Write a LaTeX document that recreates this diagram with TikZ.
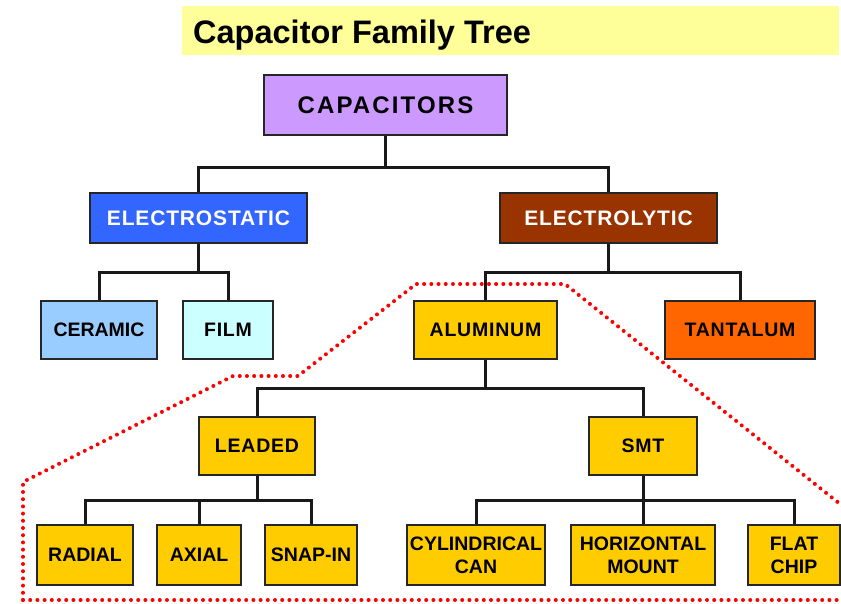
\documentclass[tikz,border=0pt]{standalone}
\usepackage{fontspec}
\setmainfont{Liberation Sans}
\definecolor{titlebg}{HTML}{FFFF99}
\definecolor{lav}{HTML}{CC99FF}
\definecolor{estblue}{HTML}{3366FF}
\definecolor{brown}{HTML}{993300}
\definecolor{ltblue}{HTML}{99CCFF}
\definecolor{cyanish}{HTML}{CCFFFF}
\definecolor{gold}{HTML}{FFCC00}
\definecolor{orng}{HTML}{FF6600}
\definecolor{dotred}{HTML}{FF0000}
\tikzset{
  box/.style={draw=black!85, line width=1.6pt, inner sep=0pt, align=center,
    font=\bfseries\fontsize{19.5}{23}\selectfont},
  spaced/.style={font=\bfseries\fontsize{19.5}{23}\selectfont\addfontfeatures{LetterSpace=4}},
  goldbox/.style={box, fill=gold},
  conn/.style={line width=3pt, draw=black!90, line join=miter},
  dots/.style={draw=dotred, line width=4pt, line cap=round, dash pattern=on 0pt off 7.2pt}
}
\begin{document}
\begin{tikzpicture}[x=1pt,y=-1pt]
\useasboundingbox (0,0) rectangle (841,603);
\fill[white] (0,0) rectangle (841,603);
% title
\fill[titlebg] (182,6) rectangle (839,55);
\node[anchor=base west, inner sep=0pt, font=\bfseries\fontsize{32.5}{36}\selectfont] (title) at (193,43) {Capacitor Family Tree};
% boxes
\node[box, fill=lav, minimum width=243pt, minimum height=60pt,
  font=\bfseries\fontsize{24}{28}\selectfont\addfontfeatures{LetterSpace=9}] (cap) at (385.5,105) {CAPACITORS};
\node[box, fill=estblue, text=white, minimum width=217pt, minimum height=50pt,
  font=\bfseries\fontsize{21}{25}\selectfont\addfontfeatures{LetterSpace=4}] (estat) at (198.5,218) {ELECTROSTATIC};
\node[box, fill=brown, text=white, minimum width=217pt, minimum height=50pt,
  font=\bfseries\fontsize{21}{25}\selectfont\addfontfeatures{LetterSpace=4}] (elyt) at (608.5,218) {ELECTROLYTIC};
\node[box, fill=ltblue, minimum width=116pt, minimum height=58pt] (ceramic) at (99,330) {CERAMIC};
\node[box, fill=cyanish, minimum width=90pt, minimum height=58pt, spaced] (film) at (228,330) {FILM};
\node[goldbox, minimum width=143pt, minimum height=58pt, spaced] (alum) at (485.5,330) {ALUMINUM};
\node[box, fill=orng, minimum width=150pt, minimum height=58pt, spaced] (tant) at (740,330) {TANTALUM};
\node[goldbox, minimum width=116pt, minimum height=58pt, spaced] (leaded) at (257,446) {LEADED};
\node[goldbox, minimum width=108pt, minimum height=58pt, spaced] (smt) at (643,446) {SMT};
\node[goldbox, minimum width=96pt, minimum height=60pt] (radial) at (85,555) {RADIAL};
\node[goldbox, minimum width=84pt, minimum height=60pt] (axial) at (199,555) {AXIAL};
\node[goldbox, minimum width=92pt, minimum height=60pt] (snap) at (311,555) {SNAP-IN};
\node[goldbox, minimum width=138pt, minimum height=60pt] (cyl) at (476,555) {CYLINDRICAL\\CAN};
\node[goldbox, minimum width=144pt, minimum height=60pt] (horiz) at (643,555) {HORIZONTAL\\MOUNT};
\node[goldbox, minimum width=92pt, minimum height=60pt] (flat) at (794,555) {FLAT\\CHIP};
% bus coordinates
\coordinate (b1) at (cap.south |- 0,167);
\coordinate (b2) at (estat.south |- 0,272);
\coordinate (b3) at (elyt.south |- 0,272);
\coordinate (b4) at (alum.south |- 0,388);
\coordinate (b5) at (leaded.south |- 0,500);
\coordinate (b6) at (smt.south |- 0,500);
% connectors
\draw[conn] (cap.south) -- (b1) -| (estat.north);
\draw[conn] (b1) -| (elyt.north);
\draw[conn] (estat.south) -- (b2) -| (ceramic.north);
\draw[conn] (b2) -| (film.north);
\draw[conn] (elyt.south) -- (b3) -| (alum.north);
\draw[conn] (b3) -| (tant.north);
\draw[conn] (alum.south) -- (b4) -| (leaded.north);
\draw[conn] (b4) -| (smt.north);
\draw[conn] (leaded.south) -- (b5) -| (radial.north);
\draw[conn] (b5) -- (axial.north |- b5) -- (axial.north);
\draw[conn] (b5) -| (snap.north);
\draw[conn] (smt.south) -- (b6) -| (cyl.north);
\draw[conn] (b6) -- (horiz.north);
\draw[conn] (b6) -| (flat.north);
% dotted outline
\begin{scope}
\clip (0,0) rectangle (841,603);
\draw[dots] (23,600) -- (23,482) -- (233,376) -- (298,376) -- (416,284) -- (565,284) -- (870,528);
\draw[dots] (23,600) -- (845,600);
\end{scope}
\end{tikzpicture}
\end{document}
